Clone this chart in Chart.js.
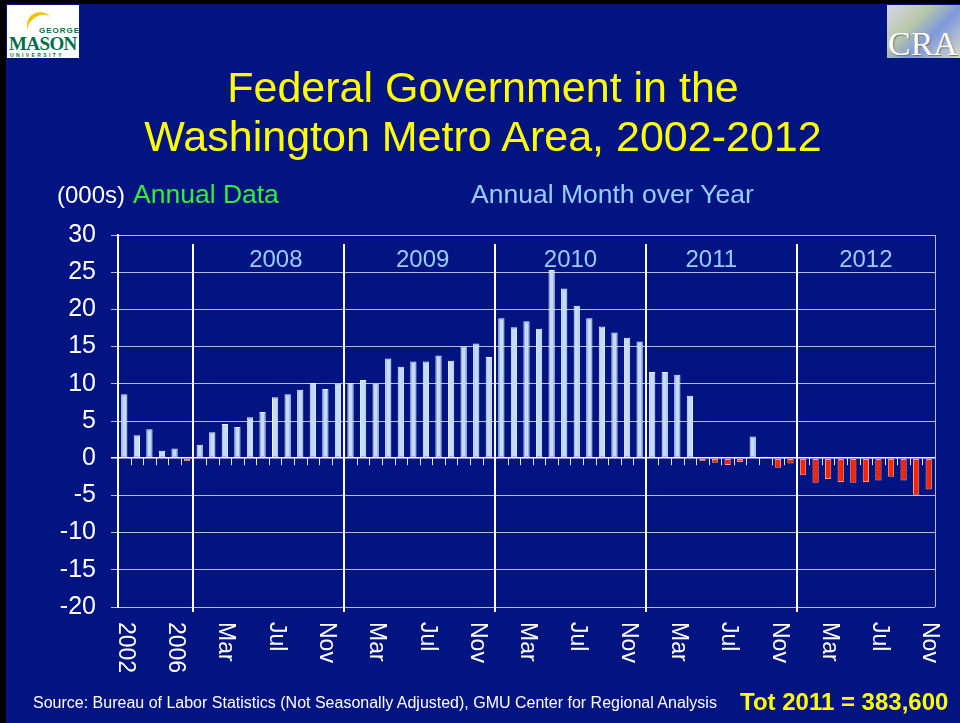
<!DOCTYPE html>
<html>
<head>
<meta charset="utf-8">
<script src="https://cdn.jsdelivr.net/npm/chart.js@4.4.1/dist/chart.umd.min.js"></script>
<style>
  html, body { margin: 0; padding: 0; background: #021482; }
  #lamina { position: relative; width: 960px; height: 723px; background: #021482; overflow: hidden;
            font-family: "Liberation Sans", Arial, sans-serif; }
  #grafica { position: absolute; left: 0; top: 0; }
  .txt { position: absolute; white-space: nowrap; }
  #titulo { left: 6px; width: 954px; top: 63px; text-align: center; color: #ffff00; font-size: 43px; line-height: 49px; }
  #miles { left: 57px; top: 180px; color: #ffffff; font-size: 24px; line-height: 30px; }
  #anual { left: 133px; top: 179px; color: #33ee33; font-size: 26.5px; line-height: 30px; }
  #mensual { left: 471px; top: 179px; color: #99ccff; font-size: 26.5px; line-height: 30px; }
  #fuente { left: 33px; top: 693px; color: #ffffff; font-size: 16px; line-height: 20px; }
  #total { left: 740px; top: 688px; color: #ffff00; font-size: 24px; font-weight: bold; line-height: 28px; }
  .borde-sup { position: absolute; left: 0; top: 0; width: 960px; height: 4px; background: #000; }
  .borde-izq { position: absolute; left: 0; top: 0; width: 6px; height: 723px; background: #000; }
  #gmu { position: absolute; left: 7px; top: 5px; width: 72px; height: 53px; background: #fff; overflow: hidden; }
  #gmu .arco { position: absolute; left: 20px; top: 7px; width: 26px; height: 22px; border-top: 4px solid #f2c200;
               border-radius: 50% 50% 0 0; transform: rotate(-30deg); }
  #gmu .george { position: absolute; left: 32px; top: 21px; font-size: 8px; font-weight: bold; color: #00704a; letter-spacing: 1px; }
  #gmu .mason { position: absolute; left: 2px; top: 28px; font-family: "Liberation Serif", serif; font-size: 19px; font-weight: bold;
                color: #00704a; letter-spacing: -0.6px; }
  #gmu .univ { position: absolute; left: 3px; top: 47px; font-size: 5px; font-weight: bold; color: #00704a; letter-spacing: 2.4px; }
  #cra { position: absolute; left: 887px; top: 5px; width: 73px; height: 53px; overflow: hidden;
         background: linear-gradient(135deg, #d8d4ec 0%, #b8c8a8 35%, #7f98dc 60%, #d6dcc8 100%); }
  #cra span { position: absolute; left: 1px; top: 20px; font-family: "Liberation Serif", serif; font-size: 34px; color: #ffffff;
              text-shadow: 1px 1px 1px #707070; }
</style>
</head>
<body>
<div id="lamina">
  <canvas id="grafica" width="960" height="723"></canvas>
  <div class="borde-sup"></div>
  <div class="borde-izq"></div>
  <div id="gmu"><div class="arco"></div><span class="george">GEORGE</span><span class="mason">MASON</span><span class="univ">UNIVERSITY</span></div>
  <div id="cra"><span>CRA</span></div>
  <div id="titulo" class="txt">Federal Government in the<br>Washington Metro Area, 2002-2012</div>
  <div id="miles" class="txt">(000s)</div>
  <div id="anual" class="txt">Annual Data</div>
  <div id="mensual" class="txt">Annual Month over Year</div>
  <div id="fuente" class="txt">Source: Bureau of Labor Statistics (Not Seasonally Adjusted), GMU Center for Regional Analysis</div>
  <div id="total" class="txt">Tot 2011 = 383,600</div>
</div>
<script>
// Categorías: datos anuales 2002-2007 y luego meses 2008 - nov 2012
const anios = ["2002", "2003", "2004", "2005", "2006", "2007"];
const meses = ["Jan", "Feb", "Mar", "Apr", "May", "Jun", "Jul", "Aug", "Sep", "Oct", "Nov", "Dec"];
const categorias = [...anios, ...meses, ...meses, ...meses, ...meses, ...meses.slice(0, 11)];

// Valores (miles)
const valoresAnuales = [8.6, 3.1, 3.9, 1.0, 1.3, -0.4];
const valores2008 = [1.8, 3.5, 4.6, 4.2, 5.5, 6.2, 8.2, 8.6, 9.2, 10.1, 9.3, 10.0];
const valores2009 = [10.1, 10.5, 10.0, 13.4, 12.3, 13.0, 13.0, 13.8, 13.1, 15.0, 15.4, 13.6];
const valores2010 = [18.8, 17.6, 18.4, 17.4, 25.3, 22.8, 20.5, 18.8, 17.7, 16.9, 16.2, 15.7];
const valores2011 = [11.6, 11.6, 11.2, 8.4, -0.4, -0.6, -0.9, -0.5, 2.9, 0.2, -1.3, -0.7];
const valores2012 = [-2.3, -3.3, -2.8, -3.2, -3.3, -3.2, -3.0, -2.5, -3.0, -4.9, -4.2];
const valores = [...valoresAnuales, ...valores2008, ...valores2009, ...valores2010, ...valores2011, ...valores2012];

// Etiquetas de años sobre las secciones mensuales
const etiquetasAnio = ["2008", "2009", "2010", "2011", "2012"];
const cortesAnio = [6, 18, 30, 42, 54, 65];
const ticksY = { min: -20, max: 30, paso: 5 };

const fuente = '"Liberation Sans", Arial, sans-serif';

const marcas = {
    id: "marcas",
    afterDatasetsDraw(chart) {
        const { ctx, chartArea: a, scales: { x, y } } = chart;
        const paso = x.getPixelForValue(1) - x.getPixelForValue(0);
        const borde = i => x.getPixelForValue(0) - paso / 2 + paso * i;
        const y0 = y.getPixelForValue(0);
        ctx.save();

        // borde derecho del área
        ctx.strokeStyle = "#b8bcd8";
        ctx.lineWidth = 1;
        ctx.beginPath();
        ctx.moveTo(Math.round(a.right) + 0.5, a.top);
        ctx.lineTo(Math.round(a.right) + 0.5, a.bottom);
        ctx.stroke();

        // marcas del eje de categorías en cero
        ctx.strokeStyle = "#e6e8f4";
        for (let i = 1; i < categorias.length; i++) {
            const px = Math.round(borde(i)) + 0.5;
            ctx.beginPath();
            ctx.moveTo(px, y0);
            ctx.lineTo(px, y0 + 7);
            ctx.stroke();
        }

        // separadores de años
        ctx.strokeStyle = "#ffffff";
        ctx.lineWidth = 2;
        cortesAnio.slice(0, -1).forEach(c => {
            const px = Math.round(borde(c));
            ctx.beginPath();
            ctx.moveTo(px, a.top + 9);
            ctx.lineTo(px, a.bottom + 5);
            ctx.stroke();
        });

        // años
        ctx.fillStyle = "#99ccff";
        ctx.font = "24px " + fuente;
        ctx.textAlign = "center";
        ctx.textBaseline = "middle";
        const ajustes = [7, 3, 0, -10, 0];
        etiquetasAnio.forEach((t, k) => {
            const cx = (borde(cortesAnio[k]) + borde(cortesAnio[k + 1])) / 2 + ajustes[k];
            ctx.fillText(t, cx, a.top + 25);
        });

        // etiquetas del eje x, giradas 90 grados
        ctx.fillStyle = "#ffffff";
        ctx.font = "23px " + fuente;
        ctx.textAlign = "left";
        categorias.forEach((c, i) => {
            if (i % 4 !== 0) return;
            ctx.save();
            ctx.translate(x.getPixelForValue(i) + 1, a.bottom + 15);
            ctx.rotate(Math.PI / 2);
            ctx.fillText(c, 0, 0);
            ctx.restore();
        });
        ctx.restore();
    }
};

new Chart(document.getElementById("grafica"), {
    type: "bar",
    data: {
        labels: categorias,
        datasets: [{
            data: valores,
            backgroundColor: c => c.raw >= 0 ? "#c4dcf8" : "#ff2400",
            borderColor: c => c.raw >= 0 ? "#eef5ff" : "#ff9c86",
            borderWidth: 1,
            borderSkipped: false,
            barPercentage: 0.5,
            categoryPercentage: 1
        }]
    },
    options: {
        responsive: false,
        animation: false,
        devicePixelRatio: 1,
        layout: { padding: { top: 235, bottom: 116, left: 0, right: 25 } },
        plugins: { legend: { display: false }, tooltip: { enabled: false } },
        scales: {
            x: { display: false },
            y: {
                min: ticksY.min,
                max: ticksY.max,
                afterFit: s => { s.width = 118; },
                ticks: { stepSize: ticksY.paso, color: "#ffffff", padding: 15, font: { size: 25, family: fuente } },
                grid: {
                    color: c => c.tick && c.tick.value === 0 ? "#ffffff" : "#b8bcd8",
                    lineWidth: c => c.tick && c.tick.value === 0 ? 1.5 : 1,
                    tickLength: 7
                },
                border: { color: "#ffffff", width: 2 }
            }
        }
    },
    plugins: [marcas]
});
</script>
</body>
</html>
